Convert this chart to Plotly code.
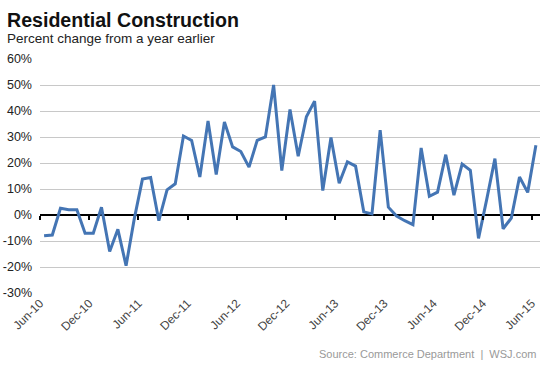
import plotly.graph_objects as go

months = ["Jun-10","Jul-10","Aug-10","Sep-10","Oct-10","Nov-10","Dec-10","Jan-11","Feb-11","Mar-11","Apr-11","May-11",
          "Jun-11","Jul-11","Aug-11","Sep-11","Oct-11","Nov-11","Dec-11","Jan-12","Feb-12","Mar-12","Apr-12","May-12",
          "Jun-12","Jul-12","Aug-12","Sep-12","Oct-12","Nov-12","Dec-12","Jan-13","Feb-13","Mar-13","Apr-13","May-13",
          "Jun-13","Jul-13","Aug-13","Sep-13","Oct-13","Nov-13","Dec-13","Jan-14","Feb-14","Mar-14","Apr-14","May-14",
          "Jun-14","Jul-14","Aug-14","Sep-14","Oct-14","Nov-14","Dec-14","Jan-15","Feb-15","Mar-15","Apr-15","May-15",
          "Jun-15"]
pct_change = [-8.0, -7.7, 2.6, 2.0, 2.0, -7.0, -7.0, 3.0, -14.0, -5.5, -19.5, -1.5,
              13.8, 14.4, -2.2, 9.7, 12.0, 30.4, 28.7, 14.6, 36.2, 15.6, 35.8, 26.2,
              24.4, 18.4, 28.7, 30.0, 50.0, 17.1, 40.6, 22.6, 37.8, 43.8, 9.4, 29.8,
              12.2, 20.4, 18.8, 1.2, 0.4, 32.6, 3.0, -0.4, -2.2, -3.7, 25.8, 7.2,
              8.8, 23.2, 7.6, 19.6, 17.2, -9.0, 6.0, 21.7, -5.3, -1.2, 14.6, 8.7,
              26.8]
tick_labels = ["Jun-10","Dec-10","Jun-11","Dec-11","Jun-12","Dec-12","Jun-13","Dec-13","Jun-14","Dec-14","Jun-15"]
y_ticks = [-30, -20, -10, 0, 10, 20, 30, 40, 50, 60]
y_tick_labels = [f"{v}%" for v in y_ticks]

x_idx = list(range(len(months)))
tick_pos = [months.index(t) - 0.5 for t in tick_labels]
x_range = [-0.5, len(months) - 0.5]
y_range = [y_ticks[0], y_ticks[-1]]

fig = go.Figure()
fig.add_trace(go.Scatter(x=x_idx, y=pct_change, mode="lines",
                         line=dict(color="#4475b4", width=3),
                         showlegend=False, hoverinfo="skip"))
# helper trace to host the tick marks on the zero line
fig.add_trace(go.Scatter(x=tick_pos, y=[0]*len(tick_pos), xaxis="x2", mode="lines",
                         line=dict(color="rgba(0,0,0,0)", width=0),
                         showlegend=False, hoverinfo="skip"))

zero_pos = (0 - y_range[0]) / (y_range[1] - y_range[0])

fig.update_layout(
    width=553, height=369,
    margin=dict(l=40, r=13, t=59, b=76),
    paper_bgcolor="white", plot_bgcolor="white",
    font=dict(family="Liberation Sans, Arial, sans-serif", color="#222"),
    xaxis=dict(range=x_range, tickvals=tick_pos, ticktext=tick_labels,
               tickangle=-45, showgrid=False, zeroline=False, showline=False,
               ticks="", automargin=False, tickfont=dict(size=12, color="#444")),
    xaxis2=dict(range=x_range, overlaying="x", anchor="free", position=zero_pos,
                tickvals=tick_pos, showticklabels=False, showgrid=False, zeroline=False,
                showline=False, ticks="outside", ticklen=4, tickwidth=2, tickcolor="black",
                side="bottom", automargin=False),
    yaxis=dict(range=y_range, tickvals=y_ticks, ticktext=y_tick_labels,
               showgrid=True, gridcolor="#c8c8c8", gridwidth=1,
               zeroline=True, zerolinecolor="black", zerolinewidth=2,
               showline=False, ticks="", ticklabelstandoff=7, automargin=False,
               tickfont=dict(size=12.5, color="#222")),
    annotations=[
        dict(text="<b>Residential Construction</b>", xref="paper", yref="paper",
             x=0, y=1, xanchor="left", yanchor="top", showarrow=False,
             font=dict(size=19.6, color="#111"), xshift=-35, yshift=52),
        dict(text="Percent change from a year earlier", xref="paper", yref="paper",
             x=0, y=1, xanchor="left", yanchor="top", showarrow=False,
             font=dict(size=13.5, color="#222"), xshift=-35, yshift=30),
        dict(text="Source: Commerce Department  |  WSJ.com", xref="paper", yref="paper",
             x=1, y=0, xanchor="right", yanchor="middle", showarrow=False,
             font=dict(size=11, color="#999"), xshift=-2, yshift=-61),
    ],
)

fig.write_html("out.html", config={"displayModeBar": False},
               post_script="document.body.style.margin='0';document.body.style.overflow='hidden';")
